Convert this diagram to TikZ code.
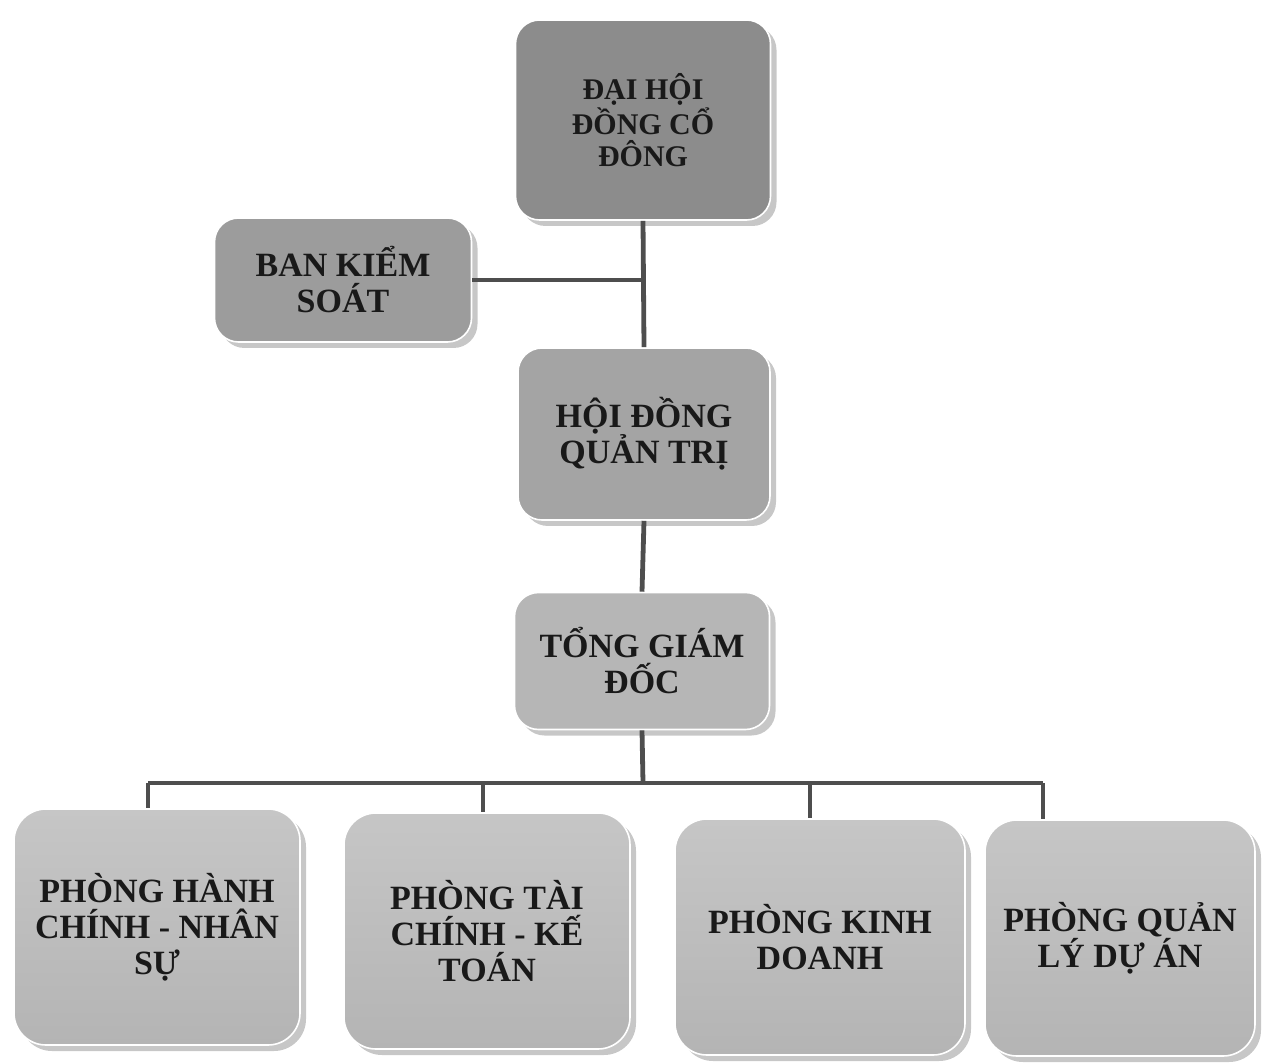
\documentclass[tikz,border=0pt]{standalone}
\usepackage{fontspec}
\setmainfont{Liberation Serif}
\usepackage{tikz}
\usetikzlibrary{positioning,shadows}
\definecolor{xam1}{HTML}{8C8C8C}
\definecolor{xam2}{HTML}{9C9C9C}
\definecolor{xam3}{HTML}{A4A4A4}
\definecolor{xam4}{HTML}{B6B6B6}
\definecolor{xam5}{HTML}{C6C6C6}
\definecolor{xam6}{HTML}{B4B4B4}
\definecolor{net}{HTML}{4E4E4E}
\tikzset{
    %Define style for boxes
    hop/.style={
           rectangle, rounded corners=12pt,
           draw=white, line width=0.8pt,
           text=black!90, align=center,
           font=\bfseries\fontsize{17}{18}\selectfont,
           drop shadow={shadow xshift=3pt, shadow yshift=-3pt,
                        fill=black, opacity=.22}},
    % Define line style
    duong/.style={
           draw=net,
           line width=2.4pt}
}
\begin{document}
\begin{tikzpicture}[x=0.5pt, y=-0.5pt,
tren/.style={hop, fill=xam1, minimum width=127.5pt, minimum height=100pt,
             font=\bfseries\fontsize{15}{16}\selectfont},
giua/.style={hop, fill=xam3, minimum width=126pt, minimum height=86pt},
phong/.style={hop, top color=xam5, bottom color=xam6,
              minimum width=143pt, minimum height=118pt, rounded corners=16pt}
]
\useasboundingbox (0,0) rectangle (1268,1063);
%Nodes
\node[tren] (dhcd) at (643,120) {ĐẠI HỘI\\ĐỒNG CỔ\\ĐÔNG};
\node[hop, fill=xam2, minimum width=128.5pt, minimum height=62pt]
    (bks) at (343,280) {BAN KIỂM\\SOÁT};
\node[giua] (hdqt) at (644,434) {HỘI ĐỒNG\\QUẢN TRỊ};
\node[hop, fill=xam4, minimum width=127.5pt, minimum height=68.5pt]
    (tgd) at (642,661) {TỔNG GIÁM\\ĐỐC};
\node[phong] (pA) at (157,927) {PHÒNG HÀNH\\CHÍNH - NHÂN\\SỰ};
\node[phong] (pB) at (487,931) {PHÒNG TÀI\\CHÍNH - KẾ\\TOÁN};
\node[phong, minimum width=145pt] (pC) at (820,937) {PHÒNG KINH\\DOANH};
\node[phong, minimum width=135pt] (pD) at (1120,938) {PHÒNG QUẢN\\LÝ DỰ ÁN};
% bus points
\coordinate (bus) at (643,783);
\coordinate (dA) at (148,783);
\coordinate (dB) at (483,783);
\coordinate (dC) at (810,783);
\coordinate (dD) at (1043,783);
%Lines
\draw[duong] (dhcd.south) -- (hdqt.north);
\draw[duong] (bks.east) -- (bks.east -| dhcd.south);
\draw[duong] (hdqt.south) -- (tgd.north);
\draw[duong] (tgd.south) -- (bus);
\draw[duong] (dA) -- (dD);
\draw[duong] (dA) -- (dA |- pA.north);
\draw[duong] (dB) -- (dB |- pB.north);
\draw[duong] (dC) -- (dC |- pC.north);
\draw[duong] (dD) -- (dD |- pD.north);
\end{tikzpicture}
\end{document}
